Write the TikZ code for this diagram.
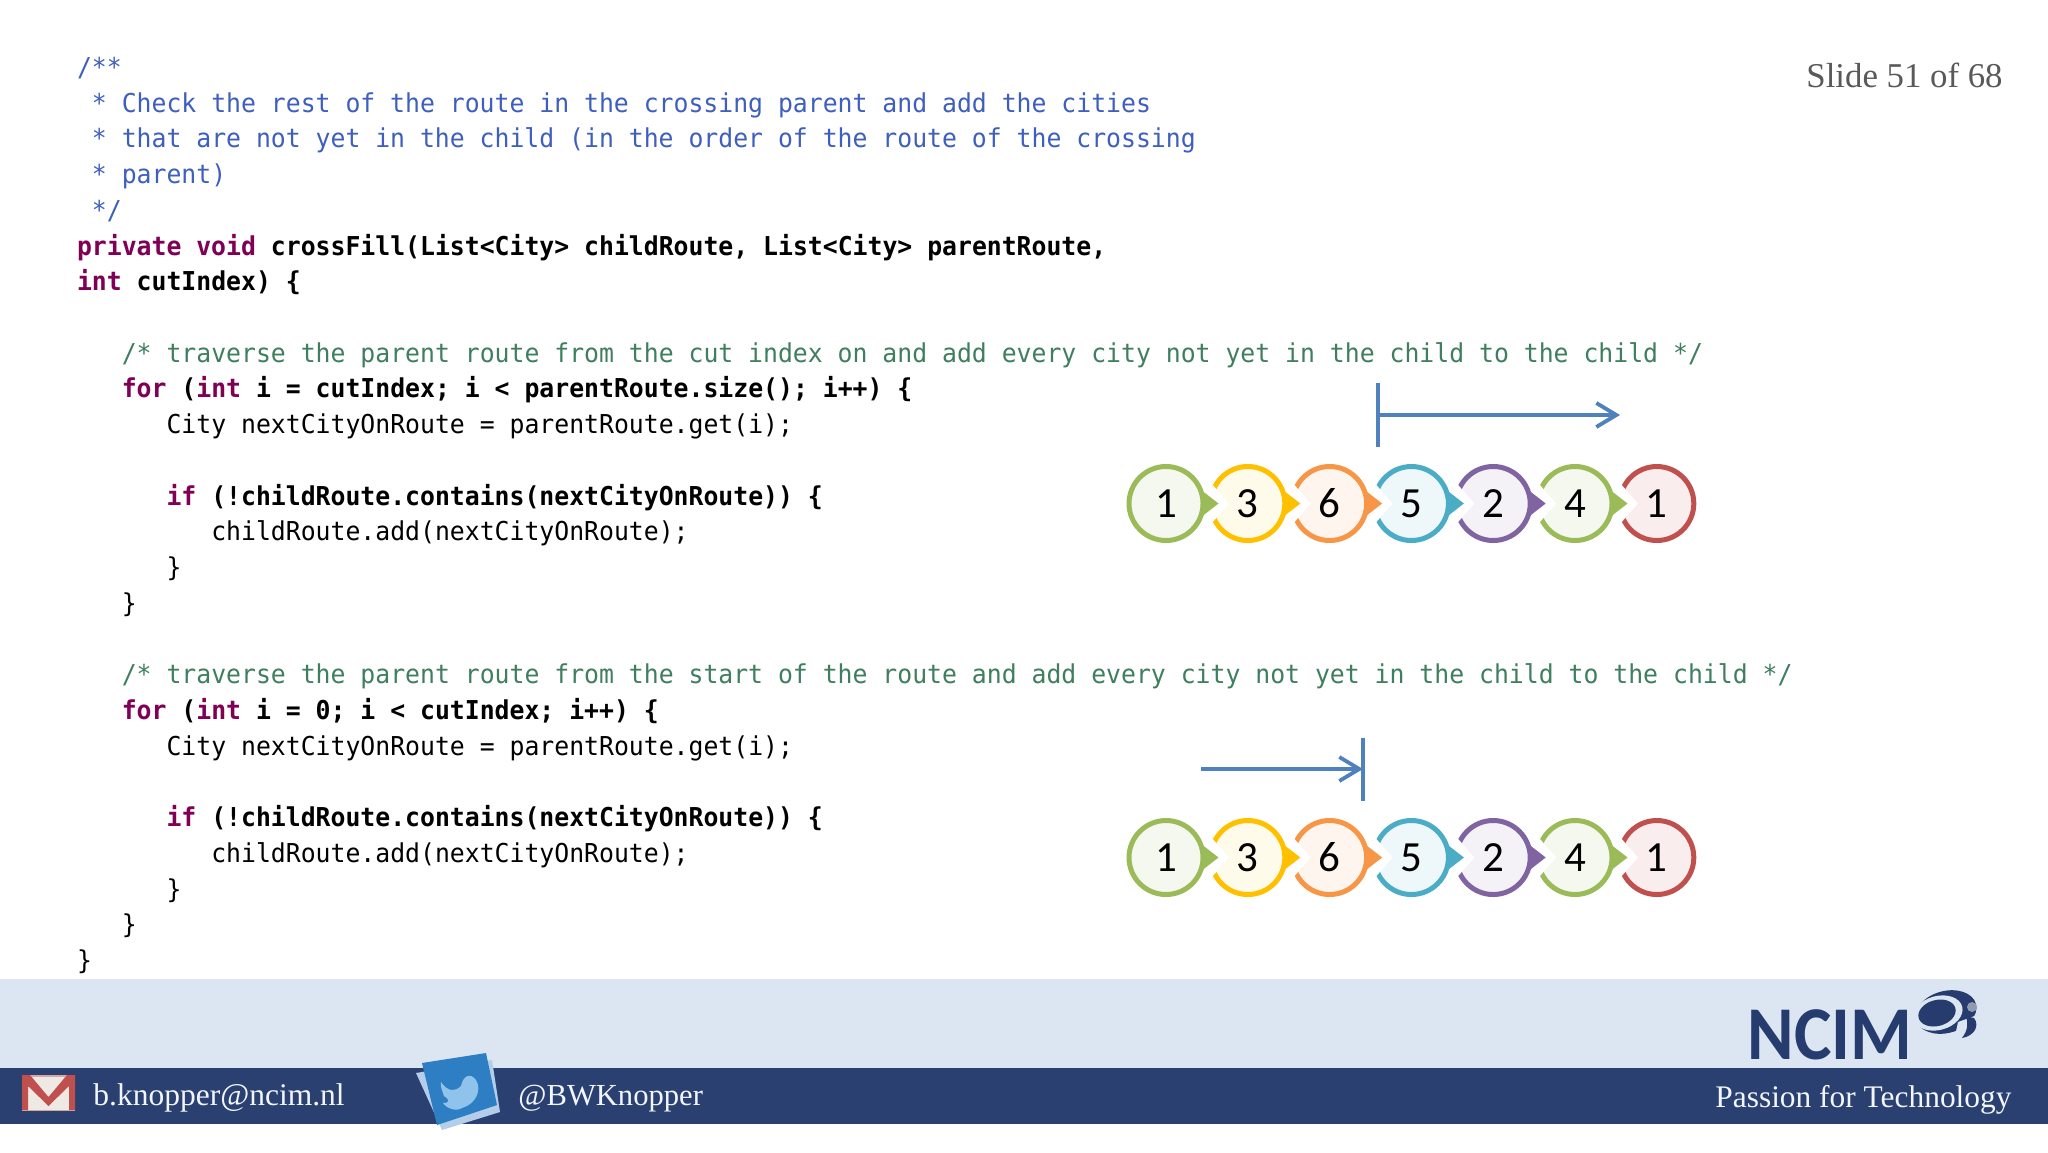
\documentclass[tikz,border=0pt]{standalone}
\usepackage{fontspec}
\usetikzlibrary{arrows.meta}
\setmainfont{Liberation Serif}
\newfontfamily\codefont[FakeStretch=0.953]{DejaVu Sans Mono}
\newfontfamily\digitfont{Carlito}
\newfontfamily\logofont[FakeStretch=0.93]{Carlito}
\definecolor{kw}{HTML}{7F0055}
\definecolor{jdoc}{HTML}{3F5FBF}
\definecolor{cmt}{HTML}{3F7F5F}
\definecolor{lightband}{HTML}{DCE6F2}
\definecolor{darkband}{HTML}{2A4071}
\definecolor{logoblue}{HTML}{263B6E}
\definecolor{arrowblue}{HTML}{4F81BD}
\definecolor{foot}{HTML}{F2F5FA}
\definecolor{twfront}{HTML}{2E7EC4}
\definecolor{twback}{HTML}{B4CDE8}
\definecolor{twbird}{HTML}{8FC3EC}
\definecolor{ringa}{HTML}{9BBB59}\definecolor{tinta}{HTML}{F5F8EE}
\definecolor{ringb}{HTML}{FFC000}\definecolor{tintb}{HTML}{FFFBEB}
\definecolor{ringc}{HTML}{F79646}\definecolor{tintc}{HTML}{FEF5EE}
\definecolor{ringd}{HTML}{4BACC6}\definecolor{tintd}{HTML}{EEF7F9}
\definecolor{ringe}{HTML}{8064A2}\definecolor{tinte}{HTML}{F4F1F7}
\definecolor{ringg}{HTML}{C0504D}\definecolor{tintg}{HTML}{F9EEED}
\tikzset{
  codeline/.style={anchor=base west,inner sep=0pt,outer sep=0pt,font=\codefont\fontsize{13}{13}\selectfont},
  footer/.style={anchor=base west,inner sep=0pt,text=foot},
  citynode/.style={circle,inner sep=0pt,outer sep=0pt,minimum size=37pt,line width=2.5pt,font=\digitfont\fontsize{21.5}{21.5}\selectfont,text=black},
  routearrow/.style={draw=arrowblue,line width=1.9pt},
}
\newcommand{\cl}[4]{\node[codeline] (#1) at ({77+14.92*#3},{76.35+35.73*#2}) {#4};}
\newcommand{\kwd}[1]{\textcolor{kw}{\bfseries #1}}
\newcommand{\bld}[1]{{\bfseries #1}}
% one city: prefix, index, digit, ring, tint, has tip, row y
\newcommand{\city}[7]{%
  \begin{scope}[shift={({1166+81.8*(#2-1)},#7)}]
    \ifnum#6=1
      \fill[white] (63,0) -- (26,42) -- (26,-42) -- cycle;
      \fill[#4] (52.5,0) -- (28,19) -- (28,-19) -- cycle;
    \fi
    \node[citynode,draw=#4,fill=#5] (#1#2) at (0,0) {#3};
  \end{scope}}
\newcommand{\route}[2]{%
  \city{#1}{7}{1}{ringg}{tintg}{0}{#2}
  \city{#1}{6}{4}{ringa}{tinta}{1}{#2}
  \city{#1}{5}{2}{ringe}{tinte}{1}{#2}
  \city{#1}{4}{5}{ringd}{tintd}{1}{#2}
  \city{#1}{3}{6}{ringc}{tintc}{1}{#2}
  \city{#1}{2}{3}{ringb}{tintb}{1}{#2}
  \city{#1}{1}{1}{ringa}{tinta}{1}{#2}}
\begin{document}
\begin{tikzpicture}[x=0.5pt,y=-0.5pt]
\useasboundingbox (0,0) rectangle (2048,1152);
\fill[white] (0,0) rectangle (2048,1152);
% code
\cl{l0}{0}{0}{\textcolor{jdoc}{/**}}
\cl{l1}{1}{1}{\textcolor{jdoc}{* Check the rest of the route in the crossing parent and add the cities}}
\cl{l2}{2}{1}{\textcolor{jdoc}{* that are not yet in the child (in the order of the route of the crossing}}
\cl{l3}{3}{1}{\textcolor{jdoc}{* parent)}}
\cl{l4}{4}{1}{\textcolor{jdoc}{*/}}
\cl{l5}{5}{0}{\kwd{private void} \bld{crossFill(List<City> childRoute, List<City> parentRoute,}}
\cl{l6}{6}{0}{\kwd{int} \bld{cutIndex) \{}}
\cl{l8}{8}{3}{\textcolor{cmt}{/* traverse the parent route from the cut index on and add every city not yet in the child to the child */}}
\cl{l9}{9}{3}{\kwd{for} \bld{(}\kwd{int} \bld{i = cutIndex; i < parentRoute.size(); i++) \{}}
\cl{l10}{10}{6}{City nextCityOnRoute = parentRoute.get(i);}
\cl{l12}{12}{6}{\kwd{if} \bld{(!childRoute.contains(nextCityOnRoute)) \{}}
\cl{l13}{13}{9}{childRoute.add(nextCityOnRoute);}
\cl{l14}{14}{6}{\}}
\cl{l15}{15}{3}{\}}
\cl{l17}{17}{3}{\textcolor{cmt}{/* traverse the parent route from the start of the route and add every city not yet in the child to the child */}}
\cl{l18}{18}{3}{\kwd{for} \bld{(}\kwd{int} \bld{i = 0; i < cutIndex; i++) \{}}
\cl{l19}{19}{6}{City nextCityOnRoute = parentRoute.get(i);}
\cl{l21}{21}{6}{\kwd{if} \bld{(!childRoute.contains(nextCityOnRoute)) \{}}
\cl{l22}{22}{9}{childRoute.add(nextCityOnRoute);}
\cl{l23}{23}{6}{\}}
\cl{l24}{24}{3}{\}}
\cl{l25}{25}{0}{\}}
% slide number
\node[anchor=base east,inner sep=0pt,text=black!65,font=\fontsize{17.4}{17.4}\selectfont] (slide) at (2003,87) {Slide 51 of 68};
% routes
\route{a}{503.5}
\route{b}{857.5}
% range marks
\coordinate (s1) at (1378,415);
\coordinate (e1) at (1620,415);
\coordinate (t1) at (1378,383);
\coordinate (u1) at (1378,447);
\draw[routearrow,-{Straight Barb[length=10pt,width=12pt,line width=1.9pt]}] (s1) -- (e1);
\draw[routearrow] (t1) -- (u1);
\coordinate (s2) at (1201,769);
\coordinate (e2) at (1363,769);
\coordinate (t2) at (1363,738);
\coordinate (u2) at (1363,801);
\draw[routearrow,-{Straight Barb[length=10pt,width=12pt,line width=1.9pt]}] (s2) -- (e2);
\draw[routearrow] (t2) -- (u2);
% footer bands
\fill[lightband] (0,979) rectangle (2048,1068);
\fill[darkband] (0,1068) rectangle (2048,1124);
% mail icon
\fill[red!40!gray!50] (22,1075) rectangle (75,1111);
\fill[black!5!lightband!60!brown!30] (24,1077) rectangle (73,1110);
\fill[ringg] (22,1075) -- (30,1075) -- (48.5,1097) -- (67,1075) -- (75,1075) -- (75,1110) -- (69,1110) -- (69,1086) -- (48.5,1106) -- (28,1086) -- (28,1110) -- (22,1110) -- cycle;
\node[footer,font=\fontsize{15.75}{15.75}\selectfont] (mail) at (93,1105) {b.knopper@ncim.nl};
% twitter icon
\fill[twback] (416,1073) -- (492,1060) -- (500,1112) -- (442,1130) -- cycle;
\fill[twfront] (422,1063) -- (486,1053) -- (497,1105) -- (437,1125) -- cycle;
\fill[twbird] (441,1082) .. controls (448,1092) and (455,1092) .. (461,1086) .. controls (463,1076) and (470,1072) .. (476,1080) .. controls (482,1090) and (476,1104) .. (462,1108) .. controls (456,1112) and (446,1108) .. (443,1103) .. controls (450,1103) and (450,1100) .. (444,1096) .. controls (442,1090) and (440,1086) .. (441,1082) -- cycle;
\node[footer,font=\fontsize{15.3}{15.3}\selectfont] (tw) at (518,1105) {@BWKnopper};
% logo
\node[anchor=base west,inner sep=0pt,text=logoblue,font=\logofont\bfseries\fontsize{38}{38}\selectfont] (ncim) at (1747,1059) {NCIM};
\fill[logoblue,rotate around={15:(1946,1012)}] (1946,1012) ellipse (31 and 21);
\fill[lightband,rotate around={15:(1938,1013)}] (1938,1013) ellipse (25 and 17);
\fill[logoblue,rotate around={15:(1937,1013)}] (1937,1013) ellipse (19 and 13);
\fill[lightband] (1958,1022) -- (1980,1014) -- (1968,1036) -- (1955,1036) -- cycle;
\fill[logoblue] (1974,1018) .. controls (1980,1026) and (1974,1036) .. (1962,1038) .. controls (1968,1030) and (1968,1024) .. (1966,1016) -- cycle;
\fill[black!15!lightband!70!logoblue] (1972,1007) circle (5);
\node[footer,font=\fontsize{15.7}{15.7}\selectfont] (tag) at (1715,1107) {Passion for Technology};
\end{tikzpicture}
\end{document}
